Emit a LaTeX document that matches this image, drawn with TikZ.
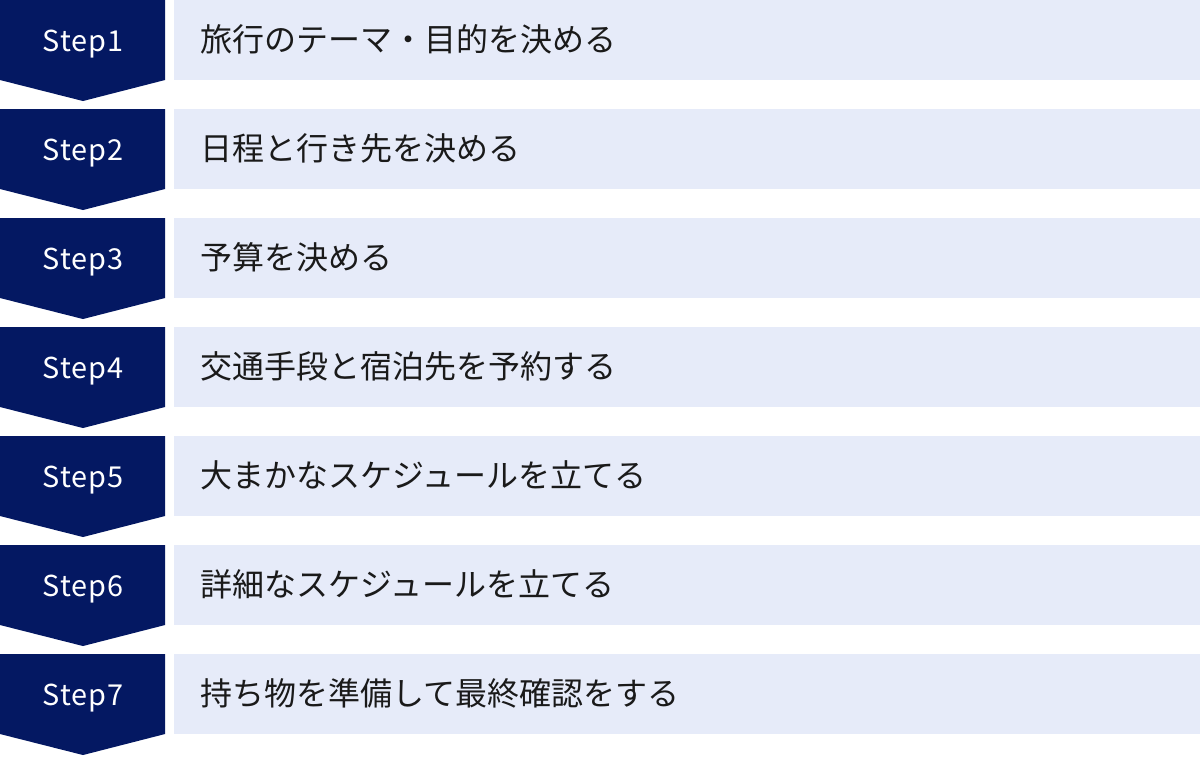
\documentclass[tikz,border=0pt]{standalone}
\usepackage{fontspec}
\setmainfont{Noto Sans CJK JP}
\newfontfamily\stepfont[LetterSpace=3]{Noto Sans CJK JP}
\definecolor{navy}{RGB}{4,24,98}
\definecolor{paleblue}{RGB}{230,235,249}
\definecolor{ink}{RGB}{26,26,26}
\begin{document}
\begin{tikzpicture}[x=0.01cm,y=-0.01cm,
	stepnum/.style={text=white,inner sep=0pt,font=\stepfont\fontsize{8.2}{10}\selectfont},
	steptext/.style={anchor=west,inner sep=0pt,text=ink,font=\fontsize{9.1}{11}\selectfont}]
	\useasboundingbox (0,0) rectangle (1200,756);
	\fill[navy] (0,0) -- ++(165,0) -- ++(0,80) -- ++(-82,21) -- ++(-83,-21) -- cycle; % step 1
	\fill[paleblue] (174,0) rectangle ++(1026,80);
	\node[stepnum] (s1) at (83,44) {Step1};
	\node[steptext] (t1) at (200,39) {旅行のテーマ・目的を決める};
	\fill[navy] (0,109) -- ++(165,0) -- ++(0,80) -- ++(-82,21) -- ++(-83,-21) -- cycle; % step 2
	\fill[paleblue] (174,109) rectangle ++(1026,80);
	\node[stepnum] (s2) at (83,153) {Step2};
	\node[steptext] (t2) at (200,148) {日程と行き先を決める};
	\fill[navy] (0,218) -- ++(165,0) -- ++(0,80) -- ++(-82,21) -- ++(-83,-21) -- cycle; % step 3
	\fill[paleblue] (174,218) rectangle ++(1026,80);
	\node[stepnum] (s3) at (83,262) {Step3};
	\node[steptext] (t3) at (200,257) {予算を決める};
	\fill[navy] (0,327) -- ++(165,0) -- ++(0,80) -- ++(-82,21) -- ++(-83,-21) -- cycle; % step 4
	\fill[paleblue] (174,327) rectangle ++(1026,80);
	\node[stepnum] (s4) at (83,371) {Step4};
	\node[steptext] (t4) at (200,366) {交通手段と宿泊先を予約する};
	\fill[navy] (0,436) -- ++(165,0) -- ++(0,80) -- ++(-82,21) -- ++(-83,-21) -- cycle; % step 5
	\fill[paleblue] (174,436) rectangle ++(1026,80);
	\node[stepnum] (s5) at (83,480) {Step5};
	\node[steptext] (t5) at (200,475) {大まかなスケジュールを立てる};
	\fill[navy] (0,545) -- ++(165,0) -- ++(0,80) -- ++(-82,21) -- ++(-83,-21) -- cycle; % step 6
	\fill[paleblue] (174,545) rectangle ++(1026,80);
	\node[stepnum] (s6) at (83,589) {Step6};
	\node[steptext] (t6) at (200,584) {詳細なスケジュールを立てる};
	\fill[navy] (0,654) -- ++(165,0) -- ++(0,80) -- ++(-82,21) -- ++(-83,-21) -- cycle; % step 7
	\fill[paleblue] (174,654) rectangle ++(1026,80);
	\node[stepnum] (s7) at (83,698) {Step7};
	\node[steptext] (t7) at (200,693) {持ち物を準備して最終確認をする};
\end{tikzpicture}
\end{document}
